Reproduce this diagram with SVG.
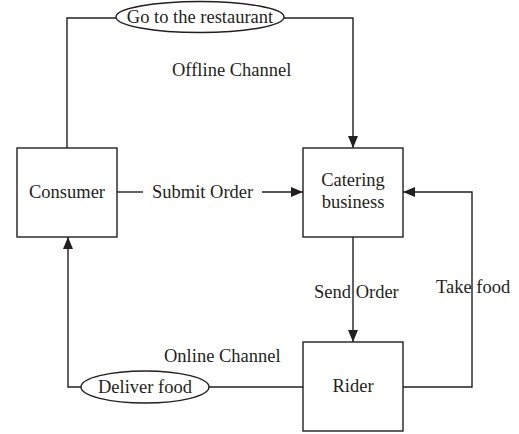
<svg xmlns="http://www.w3.org/2000/svg" width="519" height="434" viewBox="0 0 519 434">
<style>
.box{fill:#fff;stroke:#231f20;stroke-width:1.4}
.ln{fill:none;stroke:#231f20;stroke-width:1.4}
text{font-family:"Liberation Serif","Times New Roman",serif;font-size:18.5px;fill:#231f20}
.c{text-anchor:middle}
</style>
<defs>
<marker id="ah" viewBox="0 0 12 10" refX="12" refY="5" markerWidth="12" markerHeight="10" markerUnits="userSpaceOnUse" orient="auto">
<path d="M0,0 L12,5 L0,10 Z" fill="#231f20"/>
</marker>
</defs>
<rect width="519" height="434" fill="#fff"/>
<g id="connectors">
<path class="ln" d="M67,148 V18 H116"/>
<path class="ln" d="M284,18 H353 V148" marker-end="url(#ah)"/>
<path class="ln" d="M117,192 H143"/>
<path class="ln" d="M262,192 H303" marker-end="url(#ah)"/>
<path class="ln" d="M353,237 V342" marker-end="url(#ah)"/>
<path class="ln" d="M403,387 H472 V192 H403" marker-end="url(#ah)"/>
<path class="ln" d="M303,387 H209"/>
<path class="ln" d="M81,387 H68 V237" marker-end="url(#ah)"/>
<text x="152" y="198">Submit Order</text>
<text x="172" y="76">Offline Channel</text>
<text x="314" y="298">Send Order</text>
<text x="436" y="293">Take food</text>
<text x="164" y="362">Online Channel</text>
</g>
<g id="go-restaurant">
<ellipse class="box" cx="200" cy="17" rx="84" ry="15.5"/>
<text class="c" x="200" y="23">Go to the restaurant</text>
</g>
<g id="consumer">
<rect class="box" x="17" y="148" width="100" height="89"/>
<text class="c" x="67" y="198">Consumer</text>
</g>
<g id="catering">
<rect class="box" x="303" y="148" width="100" height="89"/>
<text class="c" x="353" y="186">Catering</text>
<text class="c" x="353" y="208">business</text>
</g>
<g id="rider">
<rect class="box" x="303" y="342" width="100" height="89"/>
<text class="c" x="353" y="392">Rider</text>
</g>
<g id="deliver-food">
<ellipse class="box" cx="145" cy="387" rx="64" ry="16"/>
<text class="c" x="145" y="393">Deliver food</text>
</g>
</svg>
